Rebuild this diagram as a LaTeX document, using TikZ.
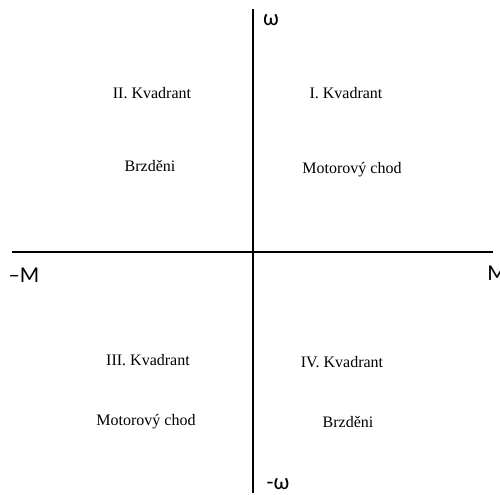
\documentclass[tikz,border=0pt]{standalone}
\usepackage{fontspec}
\setmainfont{Liberation Serif}
\newfontfamily\axfont{Carlito}
\begin{document}
\begin{tikzpicture}[x=0.75pt,y=-0.75pt,
  axis/.style={line width=1.5pt,black},
  axlabel/.style={font=\axfont\fontsize{17}{19}\selectfont,inner sep=0pt},
  qtext/.style={font=\fontsize{12}{14}\selectfont,inner sep=0pt}]
\useasboundingbox (0,0) rectangle (500,495);
\coordinate (top) at (253,9);
\coordinate (bot) at (253,493);
\coordinate (left) at (12,252);
\coordinate (right) at (493,252);
\draw[axis] (top) -- (bot);
\draw[axis] (left) -- (right);
\node[axlabel] (w) at (271,20) {ω};
\node[axlabel] (mw) at (278,484) {-ω};
\node[axlabel] (mM) at (24,275) {–M};
\node[axlabel,anchor=west] (M) at (487,273) {M};
\node[qtext] (q2) at (152,93) {II. Kvadrant};
\node[qtext] (q2b) at (150,166) {Brzděni};
\node[qtext] (q1) at (346,93) {I. Kvadrant};
\node[qtext] (q1b) at (352,170) {Motorový chod};
\node[qtext] (q3) at (148,360) {III. Kvadrant};
\node[qtext] (q3b) at (146,422) {Motorový chod};
\node[qtext] (q4) at (342,362) {IV. Kvadrant};
\node[qtext] (q4b) at (348,422) {Brzděni};
\end{tikzpicture}
\end{document}
